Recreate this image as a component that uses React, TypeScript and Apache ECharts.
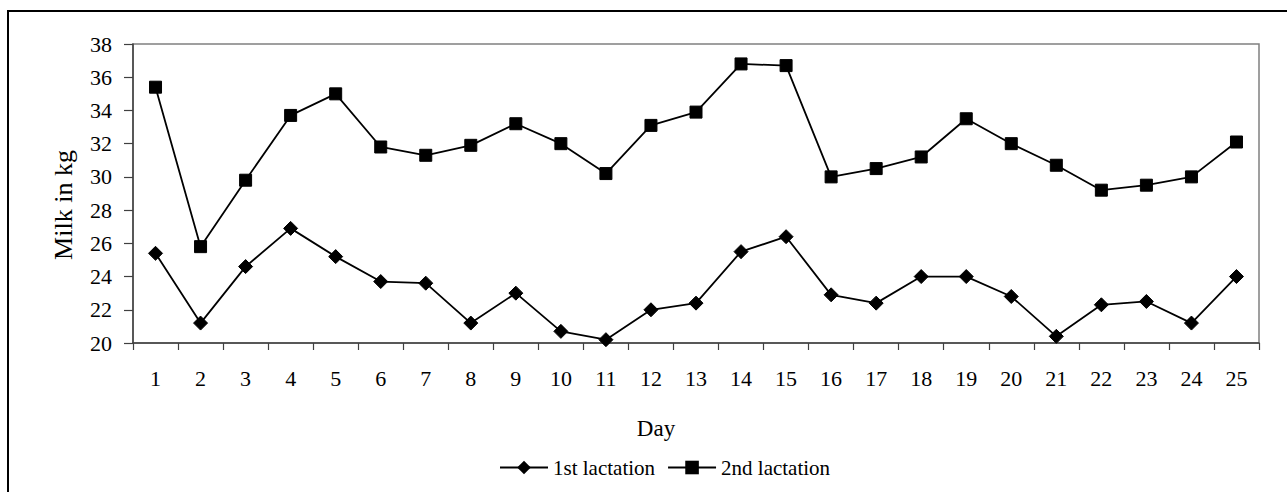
import React, { useEffect, useRef } from "react";
import * as echarts from "echarts";

const days = ["1","2","3","4","5","6","7","8","9","10","11","12","13","14","15","16","17","18","19","20","21","22","23","24","25"];
const firstLactation = [25.4, 21.2, 24.6, 26.9, 25.2, 23.7, 23.6, 21.2, 23.0, 20.7, 20.2, 22.0, 22.4, 25.5, 26.4, 22.9, 22.4, 24.0, 24.0, 22.8, 20.4, 22.3, 22.5, 21.2, 24.0];
const secondLactation = [35.4, 25.8, 29.8, 33.7, 35.0, 31.8, 31.3, 31.9, 33.2, 32.0, 30.2, 33.1, 33.9, 36.8, 36.7, 30.0, 30.5, 31.2, 33.5, 32.0, 30.7, 29.2, 29.5, 30.0, 32.1];
const yMin = 20;
const yMax = 38;
const yStep = 2;

const FONT = "Liberation Serif";

export default function App() {
  const ref = useRef<HTMLDivElement>(null);
  useEffect(() => {
    if (!ref.current) return;
    const chart = echarts.init(ref.current, undefined, { renderer: "svg" });
    chart.setOption({
      animation: false,
      backgroundColor: "#ffffff",
      textStyle: { fontFamily: FONT, color: "#000" },
      grid: {
        left: 133,
        top: 44,
        right: 28,
        bottom: 149,
        show: true,
        borderColor: "#808080",
        borderWidth: 1.5,
      },
      graphic: [
        {
          type: "rect",
          shape: { x: 8, y: 11, width: 1400, height: 600 },
          style: { fill: "none", stroke: "#000", lineWidth: 2 },
          silent: true,
        },
        {
          type: "text",
          x: 63,
          y: 205,
          rotation: Math.PI / 2,
          style: {
            text: "Milk in kg",
            fontFamily: FONT,
            fontSize: 26,
            fill: "#000",
            align: "center",
            verticalAlign: "middle",
          },
        },
        {
          type: "text",
          x: 656,
          y: 428,
          style: {
            text: "Day",
            fontFamily: FONT,
            fontSize: 23,
            fill: "#000",
            align: "center",
            verticalAlign: "middle",
          },
        },
      ],
      legend: {
        left: 494,
        top: 452,
        itemWidth: 48,
        itemHeight: 17,
        itemGap: 12,
        textStyle: { fontFamily: FONT, fontSize: 21, color: "#000" },
        data: ["1st lactation", "2nd lactation"],
      },
      xAxis: {
        type: "category",
        data: days,
        boundaryGap: true,
        axisLine: { lineStyle: { color: "#404040", width: 1.5 } },
        axisTick: { show: true, length: 7, inside: false, lineStyle: { color: "#404040", width: 1.2 } },
        axisLabel: { fontFamily: FONT, fontSize: 22, color: "#000", margin: 24, interval: 0 },
      },
      yAxis: {
        type: "value",
        min: yMin,
        max: yMax,
        interval: yStep,
        axisLine: { show: true, lineStyle: { color: "#404040", width: 1.5 } },
        axisTick: { show: true, length: 9, inside: false, lineStyle: { color: "#404040", width: 1.2 } },
        axisLabel: { fontFamily: FONT, fontSize: 22, color: "#000", margin: 21 },
        splitLine: { show: false },
      },
      series: [
        {
          name: "1st lactation",
          type: "line",
          data: firstLactation,
          symbol: "diamond",
          symbolSize: 14,
          lineStyle: { color: "#000", width: 1.8 },
          itemStyle: { color: "#000", borderColor: "#000" },
        },
        {
          name: "2nd lactation",
          type: "line",
          data: secondLactation,
          symbol: "rect",
          symbolSize: 12,
          lineStyle: { color: "#000", width: 1.8 },
          itemStyle: { color: "#000", borderColor: "#000" },
        },
      ],
    });
    return () => chart.dispose();
  }, []);
  return (
    <div
      ref={ref}
      style={{ position: "absolute", left: 0, top: 0, width: 1287, height: 492 }}
    />
  );
}
